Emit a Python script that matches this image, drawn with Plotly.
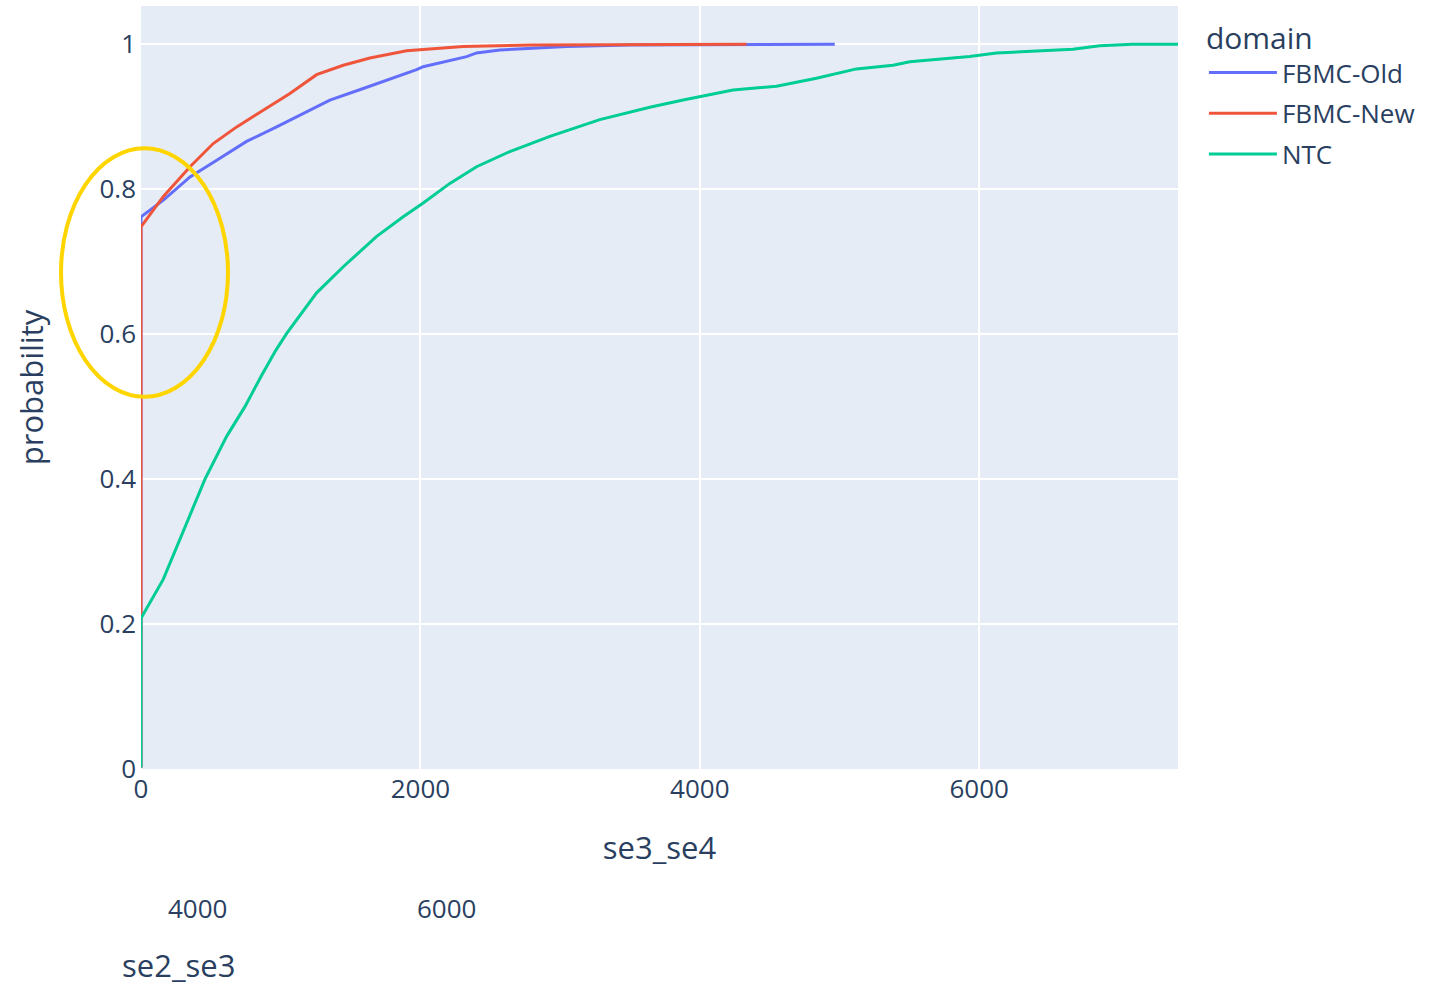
import plotly.graph_objects as go

# ---- data ----
domains = ["FBMC-Old", "FBMC-New", "NTC"]
colors = ["#636EFA", "#EF553B", "#00CC96"]

old_x = [0, 0, 160, 351, 542, 756, 971, 1162, 1352, 1591, 1830, 1973, 2020, 2211, 2331, 2402, 2569, 3046, 3500, 4966]
old_p = [0.002, 0.762, 0.785, 0.817, 0.840, 0.866, 0.886, 0.905, 0.923, 0.939, 0.955, 0.965, 0.969, 0.978, 0.983, 0.988, 0.992, 0.997, 0.999, 1.0]

new_x = [0, 0, 160, 351, 517, 685, 875, 1066, 1257, 1448, 1639, 1901, 2306, 2800, 4334]
new_p = [0.002, 0.748, 0.790, 0.831, 0.863, 0.886, 0.909, 0.932, 0.958, 0.971, 0.981, 0.991, 0.997, 0.999, 1.0]

ntc_x = [0, 0, 160, 327, 458, 613, 744, 860, 966, 1043, 1257, 1448, 1687, 1877, 2020, 2211, 2402, 2640,
         2927, 3284, 3642, 3881, 4238, 4549, 4835, 5121, 5383, 5503, 5932, 6123, 6671, 6862, 7100, 7425]
ntc_p = [0.002, 0.208, 0.262, 0.340, 0.400, 0.459, 0.500, 0.542, 0.578, 0.601, 0.657, 0.693, 0.735, 0.762, 0.781,
         0.808, 0.831, 0.852, 0.873, 0.896, 0.913, 0.923, 0.937, 0.942, 0.953, 0.966, 0.971, 0.976, 0.983,
         0.988, 0.993, 0.998, 1.0, 1.0]

series_x = [old_x, new_x, ntc_x]
series_p = [old_p, new_p, ntc_p]

x_ticks = [0, 2000, 4000, 6000]
y_ticks = [0, 0.2, 0.4, 0.6, 0.8, 1]
y_tick_labels = ["0", "0.2", "0.4", "0.6", "0.8", "1"]

# leftover second axis text visible under the chart
extra_tick_vals = [4000, 6000]
extra_axis_title = "se2_se3"

FONT = "Open Sans, Verdana, Arial, sans-serif"
FC = "#2a3f5f"

fig = go.Figure()
for name, xs, ps, c in zip(domains, series_x, series_p, colors):
    fig.add_trace(go.Scatter(x=xs, y=ps, mode="lines", name=name, legendgroup=name,
                             line=dict(color=c, width=3)))

plot_w = 1429 - 141 - 251
plot_h = 986 - 6 - 217

fig.update_layout(
    width=1429, height=986, autosize=False,
    template="plotly",
    font=dict(family=FONT, color=FC, size=26),
    margin=dict(l=141, r=251, t=6, b=217, autoexpand=False),
    plot_bgcolor="#E5ECF6", paper_bgcolor="white",
    legend=dict(title=dict(text="domain", font=dict(size=30)), font=dict(size=26),
                x=1.025, y=1 - 4 / plot_h, xanchor="left", yanchor="top",
                tracegroupgap=4, itemwidth=68),
    xaxis=dict(range=[0, 7423], tickvals=x_ticks, ticktext=[str(v) for v in x_ticks],
               title=dict(text="se3_se4", font=dict(size=31), standoff=32),
               gridcolor="white", gridwidth=1.5, zeroline=False, tickfont=dict(size=26),
               ticklabelstandoff=2, automargin=False),
    yaxis=dict(range=[0, 1.0528], tickvals=y_ticks, ticktext=y_tick_labels,
               title=dict(text="probability", font=dict(size=31), standoff=46),
               gridcolor="white", gridwidth=1.5, zeroline=False, tickfont=dict(size=26),
               ticklabelstandoff=4, automargin=False),
)

# extra labels of the leftover axis below the chart
px_per_unit = 249.7 / 2000.0
for v in extra_tick_vals:
    px = 197 + (v - 4000) * px_per_unit
    fig.add_annotation(x=(px - 141) / plot_w, y=(769.3 - 908) / plot_h, xref="paper", yref="paper",
                       text=str(v), showarrow=False, font=dict(size=26, color=FC),
                       xanchor="center", yanchor="middle")
fig.add_annotation(x=(178 - 141) / plot_w, y=(769.3 - 965) / plot_h, xref="paper", yref="paper",
                   text=extra_axis_title, showarrow=False, font=dict(size=31, color=FC),
                   xanchor="center", yanchor="middle")

# yellow highlight ellipse
fig.add_shape(type="circle", xref="paper", yref="paper",
              x0=(61 - 141) / plot_w, x1=(228 - 141) / plot_w,
              y0=(769.3 - 397) / plot_h, y1=(769.3 - 148.5) / plot_h,
              line=dict(color="#FFD500", width=4))

fig.write_html("out.html", config={"displayModeBar": False},
               post_script="document.body.style.margin='0px';document.body.style.overflow='hidden';")
